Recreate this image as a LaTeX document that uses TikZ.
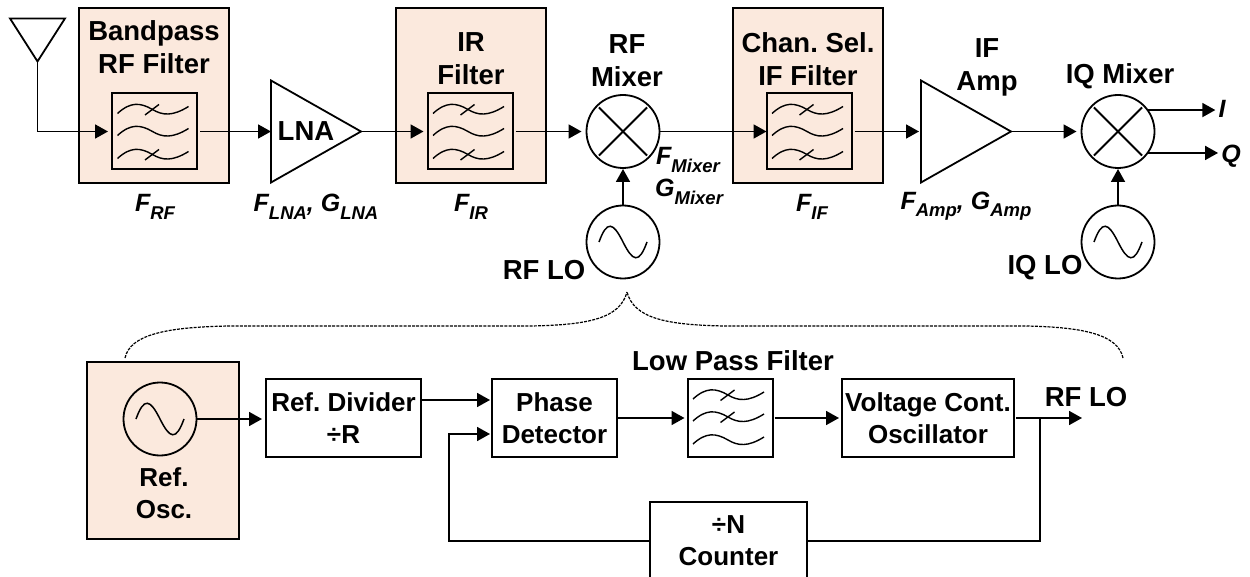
\documentclass[tikz,border=0pt]{standalone}
\usepackage{fontspec}
\usepackage{xcolor}
\setmainfont{Liberation Sans}
\usetikzlibrary{%
  arrows.meta,
  shapes.geometric,
  positioning
}
\definecolor{pinkbox}{HTML}{FBE9DD}
\frenchspacing
\tikzset{
  sig/.style={line width=1.8pt,-{Triangle[length=13pt,width=14pt]}},
  wire/.style={line width=1.8pt},
  lbl/.style={font=\fontsize{27.5}{33}\selectfont\bfseries,align=center,inner sep=0pt},
  lbs/.style={font=\fontsize{26}{32}\selectfont\bfseries,align=center,inner sep=0pt},
  nlb/.style={font=\fontsize{25}{32}\selectfont\bfseries\itshape,inner sep=0pt},
  blk/.style={draw,line width=2pt,inner sep=0pt,outer sep=0pt},
  pnk/.style={blk,fill=pinkbox},
  rnd/.style={draw,circle,line width=1.8pt,minimum size=73pt,inner sep=0pt,outer sep=0pt,fill=white},
  tri/.style={draw,isosceles triangle,isosceles triangle stretches,line width=1.8pt,inner sep=0pt,outer sep=0pt}
}
\begin{document}
\begin{tikzpicture}[x=1pt,y=-1pt]
    \def\sb#1{\raisebox{-0.3em}{\fontsize{18.5}{20}\selectfont #1}}
    \def\ww(#1,#2)#3{
      \draw[line width=1.4pt,shift={(#1,#2)}] (-37,4) .. controls (-24,-8) and (-14,-7) .. (-2,0)
        .. controls (8,6) and (18,7) .. (34,-3);
      \ifnum#3=1 \draw[line width=1.4pt,shift={(#1,#2)}] (-9.5,5.5) -- (4.5,-5); \fi
    }
    \def\fl(#1,#2)#3#4#5{
      \ww(#1,#2-22){#3}
      \ww(#1,#2){#4}
      \ww(#1,#2+23){#5}
    }
    \def\ss(#1){\draw[line width=1.5pt,shift={(#1)}] (-24,0) .. controls (-16,-22) and (-10,-20) .. (0,0)
      .. controls (10,20) and (16,22) .. (24,0);}
    \def\xx(#1){
      \draw[line width=2pt,shorten >=2.5pt,shorten <=2.5pt] (#1.45) -- (#1.225);
      \draw[line width=2pt,shorten >=2.5pt,shorten <=2.5pt] (#1.135) -- (#1.315);
    }
    \useasboundingbox (0,0) rectangle (1250,577);

    % receive chain
    \node[tri,minimum width=55pt,minimum height=43pt,shape border rotate=-90] (ant) at (37.5,33.5) {};
    \node[pnk,minimum width=150pt,minimum height=175pt] (rfbox) at (154,95.5) {};
    \node[pnk,minimum width=150pt,minimum height=175pt] (irbox) at (471,95.5) {};
    \node[pnk,minimum width=150pt,minimum height=175pt] (ifbox) at (808,95.5) {};
    \node[blk,minimum width=85pt,minimum height=76pt] (rfflt) at (154.5,131.5) {};
    \node[blk,minimum width=85pt,minimum height=76pt] (irflt) at (470,131.5) {};
    \node[blk,minimum width=85pt,minimum height=76pt] (ifflt) at (809,131.5) {};
    \fl(154.5,131.5){1}{0}{1}
    \fl(470,131.5){1}{0}{1}
    \fl(809,131.5){1}{0}{1}
    \node[tri,anchor=apex,minimum width=102pt,minimum height=90pt] (lna) at (361,131.5) {};
    \node[tri,anchor=apex,minimum width=102pt,minimum height=90pt] (ifa) at (1011,131.5) {};
    \node[rnd] (rfmix) at (623,131.5) {};
    \node[rnd] (iqmix) at (1118,131.5) {};
    \node[rnd] (rflo) at (623,242) {};
    \node[rnd] (iqlo) at (1118,242) {};
    \xx(rfmix)
    \xx(iqmix)
    \ss(rflo)
    \ss(iqlo)

    \node[lbl] (rfttl) at (154,47) {Bandpass\\RF Filter};
    \node[lbl] (irttl) at (471,59) {IR\\Filter};
    \node[lbl] (ifttl) at (808,59) {Chan. Sel.\\IF Filter};
    \node[lbl] (mixttl) at (627,61) {RF\\Mixer};
    \node[lbl] (ampttl) at (987,67) {IF\\Amp};
    \node[lbl] (iqttl) at (1120,76) {IQ Mixer};
    \node[lbl] (lnattl) at (306,131) {LNA};
    \node[lbl] (rflol) at (544,270) {RF LO};
    \node[lbl] (iqlol) at (1045,268) {IQ LO};
    \node[nlb] (frf) at (155,207) {F\sb{RF}};
    \node[nlb] (flna) at (316,207) {F\sb{LNA}, G\sb{LNA}};
    \node[nlb] (fir) at (471,207) {F\sb{IR}};
    \node[nlb,anchor=west] (fmx) at (656,160) {F\sb{Mixer}};
    \node[nlb,anchor=west] (gmx) at (655,192) {G\sb{Mixer}};
    \node[nlb] (fif) at (812,207) {F\sb{IF}};
    \node[nlb] (famp) at (966,206) {F\sb{Amp}, G\sb{Amp}};
    \node[nlb] (iout) at (1222,109) {I};
    \node[nlb] (qout) at (1231,156) {Q};

    \draw[sig,shorten >=4pt] (ant.apex) |- (rfflt.west);
    \draw[sig,shorten <=3pt] (rfflt.east) -- (lna.west |- rfflt.east);
    \draw[sig,shorten >=4pt] (lna.apex) -- (irflt.west);
    \draw[sig,shorten <=3pt,shorten >=5pt] (irflt.east) -- (rfmix.west);
    \draw[sig] (rfmix.east) -- (ifflt.west);
    \draw[sig,shorten <=3pt,shorten >=2pt] (ifflt.east) -- (ifa.west |- ifflt.east);
    \draw[sig,shorten >=5pt] (ifa.apex) -- (iqmix.west);
    \draw[sig,shorten >=3pt] (iqmix.36) -- (iqmix.36 -| iout.west);
    \draw[sig,shorten >=3pt] (iqmix.-36) -- (iqmix.-36 -| qout.west);
    \draw[sig,shorten >=1pt] (rflo.north) -- (rfmix.south);
    \draw[sig,shorten >=1pt] (iqlo.north) -- (iqmix.south);

    % dashed link to the synthesizer
    \coordinate (brl) at (125,358);
    \coordinate (brt) at (627,292);
    \coordinate (brr) at (1123,358);
    \draw[line width=1.2pt,dash pattern=on 3pt off 1.2pt] (brl) .. controls (130,335) and (165,327) .. (230,326)
      -- (530,326) .. controls (590,325) and (620,318) .. (brt);
    \draw[line width=1.2pt,dash pattern=on 3pt off 1.2pt] (brr) .. controls (1118,335) and (1085,327) .. (1025,326)
      -- (725,326) .. controls (665,325) and (634,318) .. (brt);

    % synthesizer
    \node[pnk,minimum width=152pt,minimum height=177pt] (osbox) at (163,450.5) {};
    \node[rnd,fill=pinkbox] (refosc) at (160,419) {};
    \ss(refosc)
    \node[lbs] (ostxt) at (164,493.5) {Ref.\\Osc.};
    \node[blk,lbs,minimum width=155pt,minimum height=78pt] (rdv) at (343.5,418) {Ref. Divider\\÷R};
    \node[blk,lbs,minimum width=125pt,minimum height=78pt] (pd) at (554.5,418) {Phase\\Detector};
    \node[blk,minimum width=85pt,minimum height=78pt] (lpf) at (730,418) {};
    \fl(730,417){1}{1}{0}
    \node[lbl] (lpfttl) at (733,361) {Low Pass Filter};
    \node[blk,lbs,minimum width=172pt,minimum height=78pt] (vco) at (928,418) {Voltage Cont.\\Oscillator};
    \node[lbl] (lotxt) at (1086,397) {RF LO};
    \node[blk,lbs,minimum width=157pt,minimum height=78pt] (cnt) at (728.5,541) {÷N\\Counter};
    \coordinate (rfout) at (1082,418);
    \coordinate (tap) at (1040,418);
    \coordinate (pdup) at (490,400);
    \coordinate (pddn) at (490,434);
    \coordinate (fbk) at (449,434);

    \draw[sig,shorten >=4pt] (refosc.east) -- (rdv.west |- refosc.east);
    \draw[sig] (rdv.east |- pdup) -- (pdup);
    \draw[sig,shorten >=3pt] (pd.east) -- (lpf.west);
    \draw[sig,shorten <=2pt,shorten >=3pt] (lpf.east) -- (vco.west);
    \draw[sig,shorten <=2pt] (vco.east) -- (rfout);
    \draw[wire] (tap) |- (cnt.east);
    \draw[sig] (cnt.west) -| (fbk) -- (pddn);
\end{tikzpicture}
\end{document}
